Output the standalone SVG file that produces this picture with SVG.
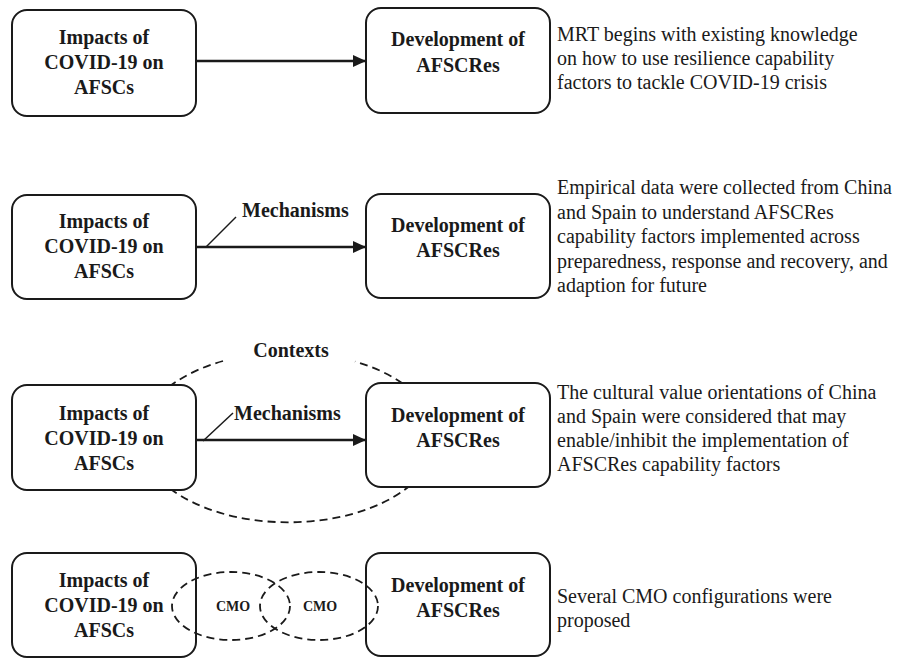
<svg xmlns="http://www.w3.org/2000/svg" width="898" height="659" viewBox="0 0 898 659">
<defs>
<style>
.box{fill:#fff;stroke:#1a1a1a;stroke-width:2}
.bt{font-family:"Liberation Serif","Times New Roman",serif;font-weight:bold;font-size:20px;fill:#1a1a1a;text-anchor:middle}
.lb{font-family:"Liberation Serif","Times New Roman",serif;font-weight:bold;font-size:20px;fill:#1a1a1a}
.cmo{font-family:"Liberation Serif","Times New Roman",serif;font-weight:bold;font-size:14px;fill:#1a1a1a;text-anchor:middle}
.desc{font-family:"Liberation Serif","Times New Roman",serif;font-size:20px;fill:#1a1a1a}
.arr{stroke:#1a1a1a;stroke-width:2.5;fill:none;marker-end:url(#ah)}
.thin{stroke:#1a1a1a;stroke-width:1.5;fill:none}
.dash{stroke:#1a1a1a;stroke-width:1.8;fill:none;stroke-dasharray:8 5}
</style>
<marker id="ah" markerUnits="userSpaceOnUse" markerWidth="14" markerHeight="12" refX="13" refY="6" orient="auto">
<path d="M0,0 L13,6 L0,12 z" fill="#1a1a1a"/>
</marker>
</defs>

<!-- Row 3 contexts ellipse (behind boxes) -->
<g id="contexts">
<path class="dash" d="M223,361 A148 85 0 1 0 355,361.5"/>
<text class="lb" x="291" y="357" text-anchor="middle">Contexts</text>
</g>

<!-- Row 1 -->
<g id="r1-impacts">
<rect class="box" x="12" y="10" width="184" height="106" rx="15"/>
<text class="bt" x="104" y="44">Impacts of</text>
<text class="bt" x="104" y="69">COVID-19 on</text>
<text class="bt" x="104" y="94">AFSCs</text>
</g>
<g id="r1-dev">
<rect class="box" x="366" y="8" width="184" height="105" rx="15"/>
<text class="bt" x="458" y="46">Development of</text>
<text class="bt" x="458" y="72">AFSCRes</text>
</g>
<g id="r1-desc">
<text class="desc" x="557" y="41">MRT begins with existing knowledge</text>
<text class="desc" x="557" y="65">on how to use resilience capability</text>
<text class="desc" x="557" y="89">factors to tackle COVID-19 crisis</text>
</g>

<!-- Row 2 -->
<g id="r2-impacts">
<rect class="box" x="12" y="195" width="184" height="104" rx="15"/>
<text class="bt" x="104" y="228">Impacts of</text>
<text class="bt" x="104" y="253">COVID-19 on</text>
<text class="bt" x="104" y="278">AFSCs</text>
</g>
<g id="r2-dev">
<rect class="box" x="366" y="194" width="184" height="104" rx="15"/>
<text class="bt" x="458" y="232">Development of</text>
<text class="bt" x="458" y="257">AFSCRes</text>
</g>
<g id="r2-desc">
<text class="desc" x="557" y="194">Empirical data were collected from China</text>
<text class="desc" x="557" y="218.5">and Spain to understand AFSCRes</text>
<text class="desc" x="557" y="243">capability factors implemented across</text>
<text class="desc" x="557" y="267.5">preparedness, response and recovery, and</text>
<text class="desc" x="557" y="292">adaption for future</text>
</g>

<!-- Row 3 -->
<g id="r3-impacts">
<rect class="box" x="12" y="385" width="184" height="105" rx="15"/>
<text class="bt" x="104" y="420">Impacts of</text>
<text class="bt" x="104" y="445">COVID-19 on</text>
<text class="bt" x="104" y="470">AFSCs</text>
</g>
<g id="r3-dev">
<rect class="box" x="366" y="383" width="184" height="104" rx="15"/>
<text class="bt" x="458" y="422">Development of</text>
<text class="bt" x="458" y="447">AFSCRes</text>
</g>
<g id="r3-desc">
<text class="desc" x="557" y="399">The cultural value orientations of China</text>
<text class="desc" x="557" y="423">and Spain were considered that may</text>
<text class="desc" x="557" y="447">enable/inhibit the implementation of</text>
<text class="desc" x="557" y="471">AFSCRes capability factors</text>
</g>

<!-- Row 4 -->
<g id="r4-impacts">
<rect class="box" x="12" y="553" width="184" height="104" rx="15"/>
<text class="bt" x="104" y="587">Impacts of</text>
<text class="bt" x="104" y="612">COVID-19 on</text>
<text class="bt" x="104" y="637">AFSCs</text>
</g>
<g id="r4-dev">
<rect class="box" x="366" y="553" width="184" height="103" rx="15"/>
<text class="bt" x="458" y="592">Development of</text>
<text class="bt" x="458" y="617">AFSCRes</text>
</g>
<g id="r4-desc">
<text class="desc" x="557" y="603">Several CMO configurations were</text>
<text class="desc" x="557" y="627">proposed</text>
</g>
<g id="cmo1">
<ellipse class="dash" cx="231" cy="606" rx="59" ry="34"/>
<text class="cmo" x="233" y="611">CMO</text>
</g>
<g id="cmo2">
<ellipse class="dash" cx="319" cy="606" rx="59" ry="34"/>
<text class="cmo" x="320" y="611">CMO</text>
</g>

<!-- Connectors -->
<g id="connectors">
<line class="arr" x1="196" y1="61" x2="366" y2="61"/>
<line class="arr" x1="196" y1="247" x2="366" y2="247"/>
<line class="thin" x1="206" y1="247" x2="236" y2="217"/>
<text class="lb" x="242" y="217">Mechanisms</text>
<line class="arr" x1="196" y1="440" x2="366" y2="440"/>
<line class="thin" x1="203" y1="441" x2="233" y2="413"/>
<text class="lb" x="234" y="420">Mechanisms</text>
</g>
</svg>
